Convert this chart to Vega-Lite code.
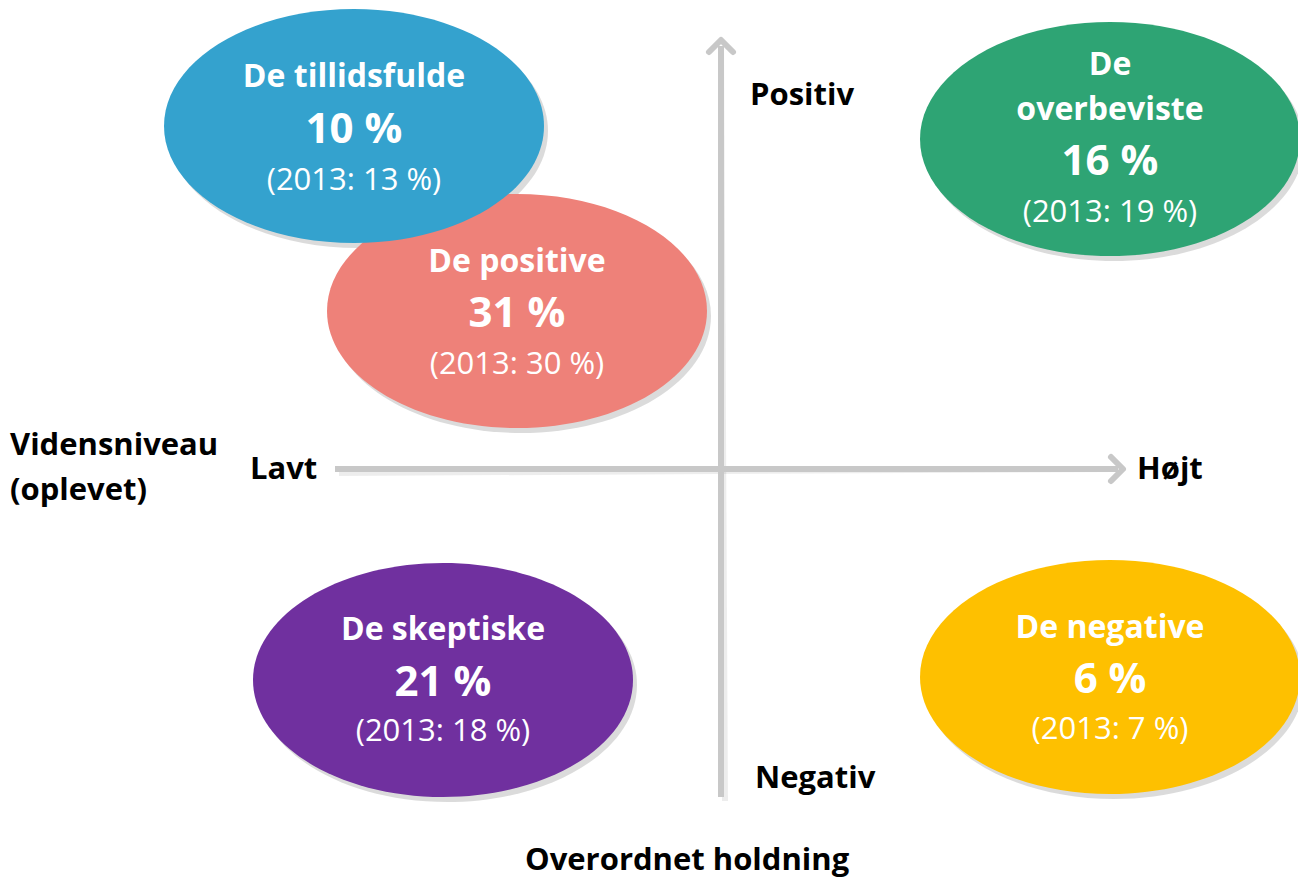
{
  "$schema": "https://vega.github.io/schema/vega-lite/v6.json",
  "width": 1298,
  "height": 880,
  "padding": 0,
  "autosize": {"type": "none"},
  "background": "white",
  "config": {"view": {"stroke": null}, "font": "Open Sans"},
  "datasets": {
    "ellipses": [
      {"name": "De positive", "x": 517, "y": 311},
      {"name": "De tillidsfulde", "x": 354, "y": 126},
      {"name": "De overbeviste", "x": 1110, "y": 139},
      {"name": "De skeptiske", "x": 443, "y": 680},
      {"name": "De negative", "x": 1110, "y": 677}
    ],
    "axes": [
      {"axis": "holdning", "x": 721, "y": 797, "x2": 721, "y2": 46},
      {"axis": "viden", "x": 335, "y": 469, "x2": 1118, "y2": 469}
    ],
    "heads": [
      {"dir": "up", "x": 721, "y": 46},
      {"dir": "right", "x": 1117, "y": 469}
    ],
    "texts": [
      {"x": 354, "y": 77, "text": "De tillidsfulde", "role": "title"},
      {"x": 354, "y": 130, "text": "10 %", "role": "pct"},
      {"x": 354, "y": 181, "text": "(2013: 13 %)", "role": "prev"},
      {"x": 517, "y": 262, "text": "De positive", "role": "title"},
      {"x": 517, "y": 314, "text": "31 %", "role": "pct"},
      {"x": 517, "y": 365, "text": "(2013: 30 %)", "role": "prev"},
      {"x": 1110, "y": 65, "text": "De", "role": "title"},
      {"x": 1110, "y": 110, "text": "overbeviste", "role": "title"},
      {"x": 1110, "y": 162, "text": "16 %", "role": "pct"},
      {"x": 1110, "y": 213, "text": "(2013: 19 %)", "role": "prev"},
      {"x": 443, "y": 630, "text": "De skeptiske", "role": "title"},
      {"x": 443, "y": 683, "text": "21 %", "role": "pct"},
      {"x": 443, "y": 732, "text": "(2013: 18 %)", "role": "prev"},
      {"x": 1110, "y": 628, "text": "De negative", "role": "title"},
      {"x": 1110, "y": 680, "text": "6 %", "role": "pct"},
      {"x": 1110, "y": 730, "text": "(2013: 7 %)", "role": "prev"}
    ],
    "labels": [
      {"x": 750, "y": 96, "text": "Positiv"},
      {"x": 755, "y": 779, "text": "Negativ"},
      {"x": 250, "y": 470, "text": "Lavt"},
      {"x": 1137, "y": 470, "text": "Højt"},
      {"x": 10, "y": 446, "text": "Vidensniveau"},
      {"x": 10, "y": 491, "text": "(oplevet)"},
      {"x": 525, "y": 861, "text": "Overordnet holdning"}
    ]
  },
  "encoding": {
    "x": {"field": "x", "type": "quantitative", "scale": {"domain": [0, 1298], "nice": false, "zero": false}, "axis": null},
    "y": {"field": "y", "type": "quantitative", "scale": {"domain": [0, 880], "nice": false, "zero": false, "reverse": true}, "axis": null}
  },
  "layer": [
    {
      "data": {"name": "axes"},
      "mark": {"type": "rule", "strokeWidth": 6, "color": "#000000", "opacity": 0.07, "xOffset": 4, "yOffset": 4},
      "encoding": {
        "x2": {"field": "x2"},
        "y2": {"field": "y2"}
      }
    },
    {
      "data": {"name": "axes"},
      "mark": {"type": "rule", "strokeWidth": 6, "color": "#c8c8c8"},
      "encoding": {
        "x2": {"field": "x2"},
        "y2": {"field": "y2"}
      }
    },
    {
      "data": {"name": "heads"},
      "mark": {"type": "point", "filled": false, "strokeWidth": 6, "color": "#c8c8c8", "opacity": 1, "strokeCap": "round", "strokeJoin": "round", "size": 576},
      "encoding": {
        "shape": {"field": "dir", "type": "nominal", "scale": {"domain": ["up", "right"], "range": ["M -1 0.5 L 0 -0.5 L 1 0.5", "M -0.5 -1 L 0.5 0 L -0.5 1"]}, "legend": null}
      }
    },
    {
      "data": {"name": "ellipses"},
      "mark": {"type": "point", "filled": true, "shape": "M -1 0 A 1 0.616 0 1 1 1 0 A 1 0.616 0 1 1 -1 0 Z", "size": 144400, "color": "#000000", "opacity": 0.14, "xOffset": 4, "yOffset": 5}
    },
    {
      "data": {"name": "ellipses"},
      "mark": {"type": "point", "filled": true, "shape": "M -1 0 A 1 0.616 0 1 1 1 0 A 1 0.616 0 1 1 -1 0 Z", "size": 144400, "opacity": 1},
      "encoding": {
        "color": {"field": "name", "type": "nominal", "scale": {"domain": ["De tillidsfulde", "De positive", "De overbeviste", "De skeptiske", "De negative"], "range": ["#34a2ce", "#ee8179", "#2ea474", "#70309f", "#fec000"]}, "legend": null}
      }
    },
    {
      "data": {"name": "texts"},
      "transform": [{"filter": "datum.role !== 'prev'"}],
      "mark": {"type": "text", "color": "white", "fontWeight": "bold", "align": "center", "baseline": "middle"},
      "encoding": {
        "text": {"field": "text"},
        "size": {"field": "role", "type": "nominal", "scale": {"domain": ["title", "pct"], "range": [32, 42]}, "legend": null}
      }
    },
    {
      "data": {"name": "texts"},
      "transform": [{"filter": "datum.role === 'prev'"}],
      "mark": {"type": "text", "color": "white", "fontWeight": "normal", "fontSize": 31, "align": "center", "baseline": "middle"},
      "encoding": {
        "text": {"field": "text"}
      }
    },
    {
      "data": {"name": "labels"},
      "mark": {"type": "text", "color": "black", "fontWeight": "bold", "fontSize": 31, "align": "left", "baseline": "middle"},
      "encoding": {
        "text": {"field": "text"}
      }
    }
  ]
}
